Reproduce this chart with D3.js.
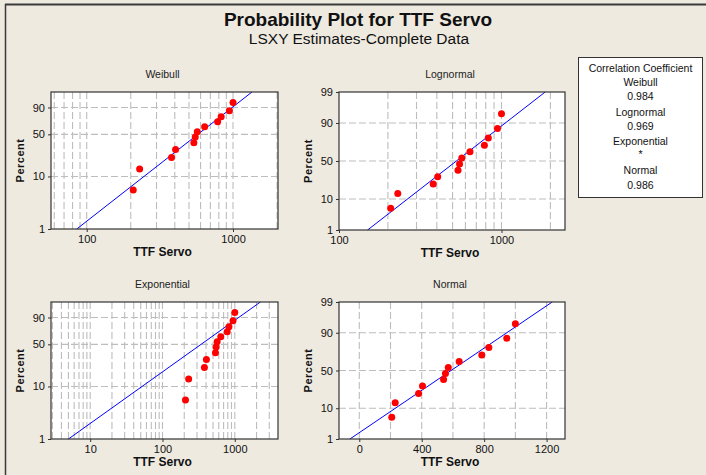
<!DOCTYPE html>
<html>
<head>
<meta charset="utf-8">
<script src="https://cdn.jsdelivr.net/npm/d3@7"></script>
<style>
  body { margin: 0; background: #eeeae0; }
  svg { display: block; font-family: "Liberation Sans", Arial, sans-serif; }
  .grid line { stroke: #bdbdbd; stroke-dasharray: 7,3; stroke-width: 1.1; }
  .axis text { font-size: 11px; fill: #111; }
  .axis path, .axis line { stroke: #333; }
</style>
</head>
<body>
<div id="chart"></div>
<script>
// failure times (sorted) and median-rank percents
const ttf = [208, 230, 380, 405, 540, 552, 570, 640, 785, 830, 945, 1000];
const percent = [5.6, 13.7, 21.8, 29.8, 37.9, 46.0, 54.0, 62.1, 70.2, 78.2, 86.3, 94.4];

// fitted lines, [x, percent] at both ends
const weibullFit = [[85.5, 1], [1348, 99]];
const lognormalFit = [[150, 1], [1858, 99]];
const exponentialFit = [[5.0, 1], [2260, 99]];
const normalFit = [[-60, 1], [1236, 99]];

const corrNames = ["Weibull", "Lognormal", "Exponential", "Normal"];
const corrValues = ["0.984", "0.969", "*", "0.986"];

const ticksWeibullY = [1, 10, 50, 90];
const ticksNormalY = [1, 10, 50, 90, 99];

function probit(p) {
  const a = [-3.969683028665376e+01, 2.209460984245205e+02, -2.759285104469687e+02, 1.383577518672690e+02, -3.066479806614716e+01, 2.506628277459239e+00];
  const b = [-5.447609879822406e+01, 1.615858368580409e+02, -1.556989798598866e+02, 6.680131188771972e+01, -1.328068155288572e+01];
  const c = [-7.784894002430293e-03, -3.223964580411365e-01, -2.400758277161838e+00, -2.549671010243931e+00, 4.374664141464968e+00, 2.938163982698783e+00];
  const d = [7.784695709041462e-03, 3.224671290700398e-01, 2.445134137142996e+00, 3.754408661907416e+00];
  let q, r;
  if (p < 0.02425) {
    q = Math.sqrt(-2 * Math.log(p));
    return (((((c[0]*q+c[1])*q+c[2])*q+c[3])*q+c[4])*q+c[5]) / ((((d[0]*q+d[1])*q+d[2])*q+d[3])*q+1);
  }
  if (p <= 1 - 0.02425) {
    q = p - 0.5; r = q * q;
    return (((((a[0]*r+a[1])*r+a[2])*r+a[3])*r+a[4])*r+a[5])*q / (((((b[0]*r+b[1])*r+b[2])*r+b[3])*r+b[4])*r+1);
  }
  q = Math.sqrt(-2 * Math.log(1 - p));
  return -(((((c[0]*q+c[1])*q+c[2])*q+c[3])*q+c[4])*q+c[5]) / ((((d[0]*q+d[1])*q+d[2])*q+d[3])*q+1);
}
const weibT = p => Math.log(-Math.log(1 - p / 100));
const normT = p => probit(p / 100);

const W = 706, H = 475;
const svg = d3.select("#chart").append("svg").attr("width", W).attr("height", H);

svg.append("rect").attr("width", W).attr("height", H).attr("fill", "#eeeae0");
// outer frame lines (top and left)
svg.append("line").attr("x1", 5).attr("x2", W).attr("y1", 4.5).attr("y2", 4.5)
  .attr("stroke", "#3a3a3a").attr("stroke-width", 2);
svg.append("line").attr("x1", 5.5).attr("x2", 5.5).attr("y1", 4).attr("y2", H)
  .attr("stroke", "#3a3a3a").attr("stroke-width", 1.5);

svg.append("text").attr("x", 358).attr("y", 26).attr("text-anchor", "middle")
  .attr("font-size", "19px").attr("font-weight", "bold").attr("fill", "#111")
  .text("Probability Plot for TTF Servo");
svg.append("text").attr("x", 359).attr("y", 44).attr("text-anchor", "middle")
  .attr("font-size", "15.5px").attr("fill", "#111")
  .text("LSXY Estimates-Complete Data");

function logGrid(domain) {
  let out = [];
  for (let e = -1; e < 5; e++) {
    for (let m = 1; m < 10; m++) {
      let v = m * Math.pow(10, e);
      if (v > domain[0] * 1.01 && v < domain[1] * 0.99) out.push(v);
    }
  }
  return out;
}

function drawPanel(cfg) {
  let {title, left, right, top, bottom, xType, xDomain, xTicks, xGrid, yT, yTicks, fit} = cfg;
  let xScale = (xType == "log" ? d3.scaleLog() : d3.scaleLinear()).domain(xDomain).range([left, right]);
  let yLin = d3.scaleLinear().domain([yT(1), yT(99)]).range([bottom, top]);
  let y = p => yLin(yT(p));

  let g = svg.append("g");
  g.append("rect").attr("x", left).attr("y", top).attr("width", right - left).attr("height", bottom - top)
    .attr("fill", "#fff");

  let grid = g.append("g").attr("class", "grid");
  grid.selectAll(".vg").data(xGrid).enter().append("line")
    .attr("x1", d => xScale(d)).attr("x2", d => xScale(d))
    .attr("y1", top).attr("y2", bottom);
  grid.selectAll(".hg").data([10, 50, 90]).enter().append("line")
    .attr("x1", left).attr("x2", right)
    .attr("y1", d => y(d)).attr("y2", d => y(d));

  // fitted line
  g.append("path").datum(fit)
    .attr("d", d3.line().x(d => xScale(d[0])).y(d => y(d[1])))
    .attr("stroke", "#0000ff").attr("stroke-width", 1).attr("fill", "none");

  g.selectAll(".dot").data(ttf).enter().append("circle")
    .attr("cx", d => xScale(d))
    .attr("cy", (d, i) => y(percent[i]))
    .attr("r", 3.5).attr("fill", "#ff0000");

  g.append("rect").attr("x", left).attr("y", top).attr("width", right - left).attr("height", bottom - top)
    .attr("fill", "none").attr("stroke", "#333").attr("stroke-width", 1.2);

  g.append("g").attr("class", "axis").attr("transform", "translate(0," + bottom + ")")
    .call(d3.axisBottom(xScale).tickValues(xTicks).tickFormat(d3.format("d")).tickSize(3).tickPadding(3).tickSizeOuter(0))
    .call(a => a.select(".domain").remove());
  g.append("g").attr("class", "axis").attr("transform", "translate(" + left + ",0)")
    .call(d3.axisLeft(yLin).tickValues(yTicks.map(yT)).tickFormat((d, i) => yTicks[i]).tickSize(3).tickPadding(3).tickSizeOuter(0))
    .call(a => a.select(".domain").remove());

  let cx = (left + right) / 2;
  g.append("text").attr("x", cx - 2).attr("y", top - 14).attr("text-anchor", "middle")
    .attr("font-size", "10.5px").attr("fill", "#222").text(title);
  g.append("text").attr("x", cx - 2).attr("y", bottom + 27).attr("text-anchor", "middle")
    .attr("font-size", "12px").attr("font-weight", "bold").attr("fill", "#111").text("TTF Servo");
  g.append("text").attr("transform", "translate(" + (left - 27) + "," + ((top + bottom) / 2) + ") rotate(-90)")
    .attr("text-anchor", "middle").attr("font-size", "11px").attr("font-weight", "bold")
    .attr("letter-spacing", "0.5px").attr("fill", "#111").text("Percent");
}

drawPanel({title: "Weibull", left: 51, right: 278, top: 92, bottom: 229,
  xType: "log", xDomain: [57, 2030], xTicks: [100, 1000], xGrid: logGrid([57, 2030]),
  yT: weibT, yTicks: ticksWeibullY, fit: weibullFit});
drawPanel({title: "Lognormal", left: 339, right: 565, top: 92, bottom: 230,
  xType: "log", xDomain: [100, 2460], xTicks: [100, 1000], xGrid: logGrid([100, 2460]),
  yT: normT, yTicks: ticksNormalY, fit: lognormalFit});
drawPanel({title: "Exponential", left: 51, right: 278, top: 302, bottom: 439,
  xType: "log", xDomain: [2.87, 3960], xTicks: [10, 100, 1000], xGrid: logGrid([2.87, 3960]),
  yT: weibT, yTicks: ticksWeibullY, fit: exponentialFit});
drawPanel({title: "Normal", left: 339, right: 565, top: 302, bottom: 439,
  xType: "linear", xDomain: [-130, 1318], xTicks: [0, 400, 800, 1200], xGrid: [0, 200, 400, 600, 800, 1000, 1200],
  yT: normT, yTicks: ticksNormalY, fit: normalFit});

// correlation coefficient box
let lg = svg.append("g");
lg.append("rect").attr("x", 578.5).attr("y", 57.5).attr("width", 124).attr("height", 140)
  .attr("fill", "#fff").attr("stroke", "#333").attr("stroke-width", 1);
let lines = ["Correlation Coefficient"];
corrNames.forEach((n, i) => { lines.push(n); lines.push(corrValues[i]); });
const lineY = [72, 86, 100, 116, 130, 145, 158, 174, 189];
lg.selectAll("text").data(lines).enter().append("text")
  .attr("x", 640.5).attr("y", (d, i) => lineY[i]).attr("text-anchor", "middle")
  .attr("font-size", "10.5px").attr("fill", "#111").text(d => d);
</script>
</body>
</html>
